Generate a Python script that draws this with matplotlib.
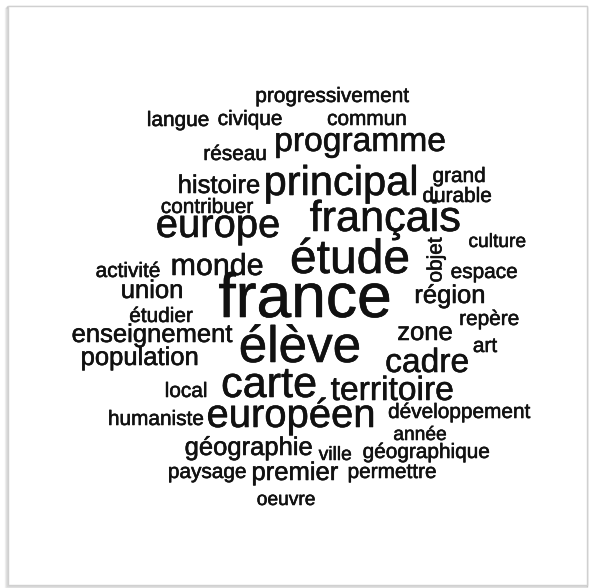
import matplotlib.pyplot as plt
import matplotlib.patheffects as pe
from matplotlib.patches import Rectangle

# word cloud data: words and their (estimated) frequencies
words = ['progressivement', 'langue', 'civique', 'commun', 'programme', 'réseau',
         'histoire', 'principal', 'grand', 'durable', 'contribuer', 'europe',
         'français', 'culture', 'objet', 'étude', 'activité', 'monde', 'espace',
         'union', 'france', 'région', 'étudier', 'repère', 'enseignement', 'zone',
         'élève', 'art', 'population', 'cadre', 'carte', 'local', 'territoire',
         'humaniste', 'européen', 'développement', 'année', 'géographie', 'ville',
         'géographique', 'paysage', 'premier', 'permettre', 'oeuvre']
freq = [13, 13, 13, 13, 21, 13,
        16, 26, 13, 13, 13, 25,
        27, 12, 13, 30, 13, 19, 13,
        16, 39, 16, 13, 13, 16, 16,
        32, 13, 16, 21, 27, 13, 21,
        13, 25, 13, 12, 16, 12,
        13, 13, 16, 13, 12]

# layout of the cloud (pixel centre x, baseline y)
pos_x = [332, 178, 250, 367, 360, 235,
         219, 341, 459, 457, 207, 218,
         385, 497, 436, 350, 128, 217, 484,
         152, 305, 450, 161, 489, 152, 425,
         300, 485, 140, 427, 269, 186, 392,
         156, 291, 459, 420, 249, 335,
         426, 207, 295, 392, 286]
pos_y = [102, 126, 125, 125, 151, 160,
         193, 195, 182, 202, 213, 237,
         231, 247, 260, 273, 277, 275, 278,
         298, 317, 303, 322, 325, 342, 340,
         362, 352, 365, 372, 397, 397, 400,
         425, 427, 418, 440, 455, 460,
         458, 478, 480, 478, 505]
rot = [90 if w == 'objet' else 0 for w in words]

fig = plt.figure(figsize=(5.92, 5.88), dpi=100)
ax = fig.add_axes([0, 0, 1, 1])
ax.set_xlim(0, 592)
ax.set_ylim(588, 0)
ax.axis('off')

# frame with a soft shadow
for i, a in enumerate([0.10, 0.18, 0.28]):
    ax.add_patch(Rectangle((5 + i, 8 - i), 582 - i, 580, fill=False,
                           edgecolor='gray', alpha=a, lw=1))
ax.add_patch(Rectangle((8, 6), 579, 579, facecolor='white',
                       edgecolor='#d0d0d0', lw=1))

stroke = [pe.withStroke(linewidth=0.4, foreground='#111111')]
for w, f, x, y, r in zip(words, freq, pos_x, pos_y, rot):
    if r:
        ax.text(x, y, w, fontsize=f * 1.152, rotation=r, ha='center', va='center',
                family='Liberation Sans', color='#111111', path_effects=stroke)
    else:
        ax.text(x, y, w, fontsize=f * 1.152, ha='center', va='baseline',
                family='Liberation Sans', color='#111111', path_effects=stroke)

fig.savefig('out.png', dpi=100)
